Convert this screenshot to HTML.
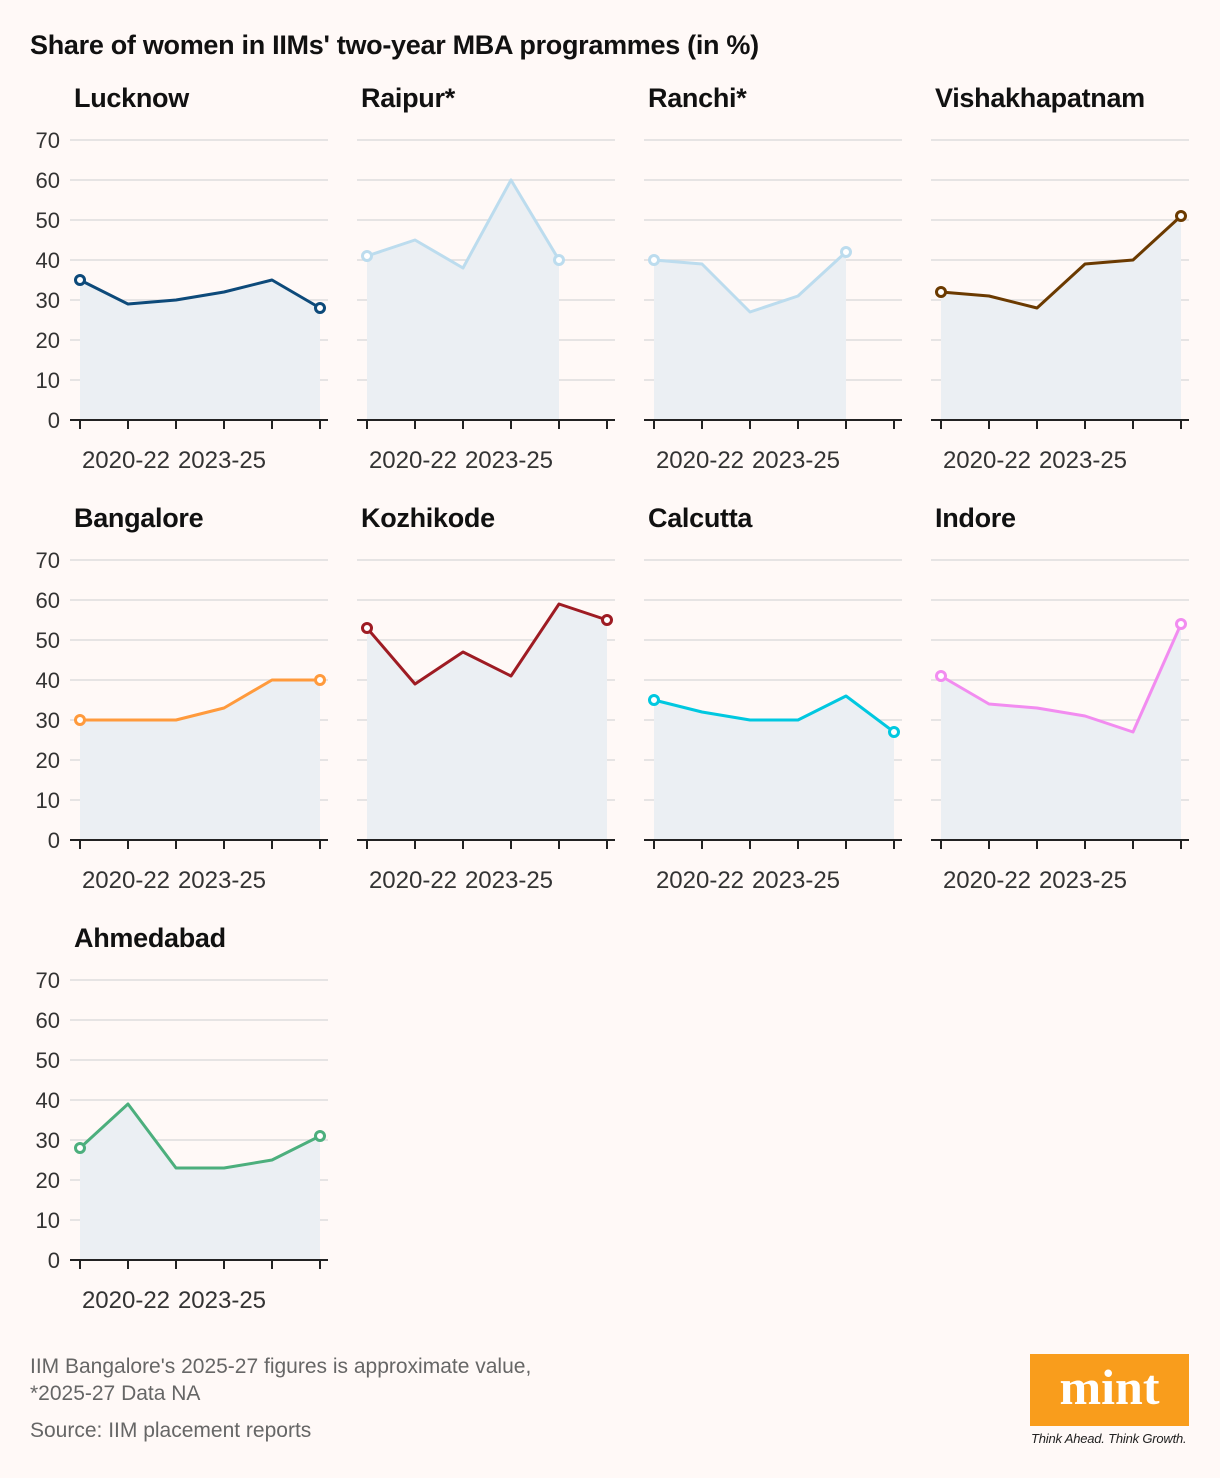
<!DOCTYPE html>
<html><head><meta charset="utf-8">
<style>
body{margin:0;background:#fff9f7;font-family:"Liberation Sans",sans-serif;}
#root{position:relative;width:1220px;height:1478px;overflow:hidden;}
.t{position:absolute;white-space:nowrap;}
</style></head>
<body>
<div id="root">
<div class="t" style="left:30px;top:30px;font-size:27px;font-weight:bold;color:#111;letter-spacing:-0.3px;">Share of women in IIMs' two-year MBA programmes (in %)</div>
<svg id="svg" width="1220" height="1478" style="position:absolute;left:0;top:0"></svg>
<div class="t" style="left:30px;top:1353px;font-size:21px;color:#666;line-height:27px;">IIM Bangalore's 2025-27 figures is approximate value,<br>*2025-27 Data NA</div>
<div class="t" style="left:30px;top:1419px;font-size:21px;color:#666;">Source: IIM placement reports</div>
<div style="position:absolute;left:1030px;top:1354px;width:159px;height:72px;background:#f99d1c;color:#fff;font-family:'Liberation Serif',serif;font-weight:bold;font-size:50px;text-align:center;line-height:66px;">mint</div>
<div class="t" style="left:1031px;top:1431px;font-size:13px;font-style:italic;color:#222;letter-spacing:-0.2px;">Think Ahead. Think Growth.</div>
</div>
<script>
const names=["Lucknow","Raipur*","Ranchi*","Vishakhapatnam","Bangalore","Kozhikode","Calcutta","Indore","Ahmedabad"];
const colors=["#0d4a7a","#bcdcee","#bcdcee","#6b3a00","#ff9a3c","#9e1b23","#00c8e0","#f28cf0","#4caf7d"];
const lucknow=[35,29,30,32,35,28];
const raipur=[41,45,38,60,40,null];
const ranchi=[40,39,27,31,42,null];
const vishakhapatnam=[32,31,28,39,40,51];
const bangalore=[30,30,30,33,40,40];
const kozhikode=[53,39,47,41,59,55];
const calcutta=[35,32,30,30,36,27];
const indore=[41,34,33,31,27,54];
const ahmedabad=[28,39,23,23,25,31];
const series=[lucknow,raipur,ranchi,vishakhapatnam,bangalore,kozhikode,calcutta,indore,ahmedabad];
const yTicks=[0,10,20,30,40,50,60,70];
const xLabels=[null,"2020-22",null,"2023-25",null,null];
const NS="http://www.w3.org/2000/svg";
const svg=document.getElementById('svg');
function mk(t,a,p){const e=document.createElementNS(NS,t);for(const k in a)e.setAttribute(k,a[k]);(p||svg).appendChild(e);return e;}
series.forEach((vals,i)=>{
  const col=i%4,row=Math.floor(i/4);
  const ox=col*287,base=420+row*420;
  const g=mk('g',{});
  
  
  const xs=k=>ox+80+k*48;
  const ys=v=>base-v*4;
  const tt=mk('text',{x:ox+74,y:base-313,'font-size':27,'font-weight':'bold',fill:'#111','font-family':'Liberation Sans, sans-serif','letter-spacing':-0.3},g);
  tt.textContent=names[i];
  
  
  yTicks.forEach(v=>{
    if(v>0){const l=mk('line',{x1:ox+70,x2:ox+328,y1:ys(v),y2:ys(v),stroke:'#ddd','stroke-width':1.5},g);
    }
    if(col===0){const t=mk('text',{x:60,y:ys(v)+8,'font-size':22,fill:'#333','text-anchor':'end','font-family':'Liberation Sans, sans-serif'},g);
    t.textContent=v;}
  });
  const pts=[];vals.forEach((v,k)=>{if(v!==null)pts.push([xs(k),ys(v)]);});
  const area=mk('path',{d:'M'+pts[0][0]+','+base+' '+pts.map(p=>'L'+p[0]+','+p[1]).join(' ')+' L'+pts[pts.length-1][0]+','+base+'Z',fill:'#ebeff3'},g);
  
  const ax=mk('line',{x1:ox+70,x2:ox+328,y1:base,y2:base,stroke:'#222','stroke-width':2},g);
  
  vals.forEach((v,k)=>{
    const tk=mk('line',{x1:xs(k),x2:xs(k),y1:base,y2:base+9,stroke:'#222','stroke-width':2},g);
    
    if(xLabels[k]){const t=mk('text',{x:xs(k)-2,y:base+48,'font-size':24,fill:'#333','text-anchor':'middle','font-family':'Liberation Sans, sans-serif'},g);
    t.textContent=xLabels[k];}
  });
  const ln=mk('polyline',{points:pts.map(p=>p.join(',')).join(' '),fill:'none',stroke:colors[i],'stroke-width':3,'stroke-linejoin':'round'},g);
  
  [pts[0],pts[pts.length-1]].forEach(p=>{
    const c=mk('circle',{cx:p[0],cy:p[1],r:4.5,fill:'#fff',stroke:colors[i],'stroke-width':3},g);
    
  });
});
</script>
</body></html>
